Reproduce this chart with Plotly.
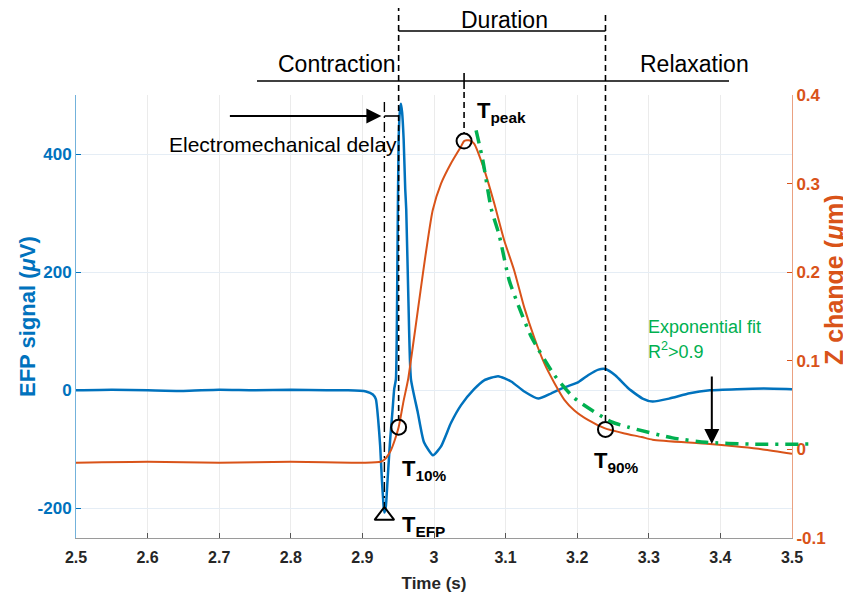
import plotly.graph_objects as go

# ---------------- data ----------------
time_ticks = [2.5, 2.6, 2.7, 2.8, 2.9, 3.0, 3.1, 3.2, 3.3, 3.4, 3.5]
time_tick_labels = ["2.5", "2.6", "2.7", "2.8", "2.9", "3", "3.1", "3.2", "3.3", "3.4", "3.5"]
efp_ticks = [-200, 0, 200, 400]
efp_tick_labels = ["-200", "0", "200", "400"]
z_ticks = [-0.1, 0.0, 0.1, 0.2, 0.3, 0.4]
z_tick_labels = ["-0.1", "0", "0.1", "0.2", "0.3", "0.4"]

# EFP signal (uV)
efp_time = [2.500, 2.550, 2.600, 2.650, 2.700, 2.750, 2.800, 2.850, 2.880, 2.905,
            2.9146, 2.9188, 2.9220, 2.9248, 2.9272, 2.9296, 2.9307, 2.9328, 2.9352, 2.9388,
            2.9422, 2.9444, 2.9468, 2.9490, 2.9506, 2.9525, 2.9538, 2.9555, 2.9576, 2.9598,
            2.9612, 2.9643, 2.9678, 2.9773, 2.9860, 2.9986, 3.0098, 3.0238, 3.0378, 3.0560,
            3.0700, 3.0896, 3.1078, 3.1261, 3.1457, 3.1639, 3.1821, 3.2017, 3.2157, 3.2297,
            3.2395, 3.2535, 3.2717, 3.2913, 3.3053, 3.3284, 3.3571, 3.3852, 3.4230, 3.4608,
            3.5000]
efp_uv = [0, 1, 0, -1, 1, 0, 1, 0, 0, -2,
          -7, -15, -49, -94, -151, -196, -207, -196, -151, -83,
          -32, 2, 19, 230, 425, 475, 485, 470, 425, 341,
          307, 150, 19, -37, -88, -110, -95, -55, -25, 2,
          17, 24, 15, -2, -14, -5, 5, 14, 26, 35,
          36, 25, 3, -14, -19, -14, -5, 0, 2, 3,
          2]

# Z change (um)
z_time = [2.500, 2.600, 2.700, 2.800, 2.900, 2.9258, 2.9328, 2.9398, 2.9450, 2.9506,
          2.9576, 2.9636, 2.9706, 2.9776, 2.9846, 2.9916, 2.9982, 3.0098, 3.0238, 3.0378,
          3.0420, 3.0490, 3.0560, 3.0700, 3.0840, 3.0980, 3.1120, 3.1261, 3.1401, 3.1541,
          3.1681, 3.1821, 3.1961, 3.2157, 3.2381, 3.2661, 3.2899, 3.3053, 3.3852, 3.4594,
          3.5000]
z_um = [-0.015, -0.014, -0.015, -0.014, -0.015, -0.014, -0.010, -0.001, 0.010, 0.025,
        0.055, 0.078, 0.117, 0.158, 0.199, 0.238, 0.270, 0.300, 0.323, 0.342,
        0.348, 0.349, 0.345, 0.316, 0.278, 0.236, 0.202, 0.160, 0.126, 0.097,
        0.075, 0.056, 0.044, 0.033, 0.024, 0.018, 0.014, 0.011, 0.006, 0.000,
        -0.005]

# Exponential fit of relaxation (um)
fit_time = [3.0588, 3.0680, 3.0798, 3.0910, 3.1050, 3.1190, 3.1360, 3.1680, 3.1960,
            3.2480, 3.2720, 3.3330, 3.3800, 3.4410, 3.5250]
fit_um = [0.360, 0.327, 0.272, 0.242, 0.191, 0.160, 0.127, 0.084, 0.058,
          0.031, 0.025, 0.013, 0.008, 0.006, 0.006]

# Event markers
t_efp, efp_at_tefp = 2.9307, -212
t_10, z_at_t10 = 2.9506, 0.025
t_peak, z_at_tpeak = 3.0420, 0.348
t_90, z_at_t90 = 3.2395, 0.0226

# ---------------- layout geometry ----------------
OFF = 8                                     # page body margin of the html page
W, H = 851 - OFF, 597 - OFF
ML, MR, MT, MB = 76 - OFF, 36, 95 - OFF, 59
PW, PH = W - ML - MR, H - MT - MB          # paper plot area (739 x 443)
AX_W = 716                                  # pixel width of the real x axis
X_RANGE = [2.5, 3.5]
Y_RANGE = [-250, 500]
Y2_RANGE = [-0.1, 0.4]


def xp(px):
    """page pixel x -> paper coordinate"""
    return (px - OFF - ML) / PW


def yp(py):
    """page pixel y -> paper coordinate"""
    return (H - MB - (py - OFF)) / PH


def y2p(v):
    return (v - Y2_RANGE[0]) / (Y2_RANGE[1] - Y2_RANGE[0])


def y1p(v):
    return (v - Y_RANGE[0]) / (Y_RANGE[1] - Y_RANGE[0])


BLUE = "#0072BD"
ORANGE = "#D95319"
GREEN = "#00B050"
FONT = "Arial, Liberation Sans, sans-serif"

fig = go.Figure()
fig.add_trace(go.Scatter(x=efp_time, y=efp_uv, mode="lines", xaxis="x", yaxis="y",
                         line=dict(color=BLUE, width=2.5, shape="spline", smoothing=0.5),
                         hoverinfo="skip"))
fig.add_trace(go.Scatter(x=z_time, y=z_um, mode="lines", xaxis="x", yaxis="y2",
                         line=dict(color=ORANGE, width=2, shape="spline", smoothing=0.6),
                         hoverinfo="skip"))
fig.add_trace(go.Scatter(x=[t_10, t_peak, t_90], y=[z_at_t10, z_at_tpeak, z_at_t90],
                         mode="markers", xaxis="x", yaxis="y2",
                         marker=dict(symbol="circle-open", size=15, color="black",
                                     line=dict(width=2, color="black")),
                         hoverinfo="skip"))
fig.add_trace(go.Scatter(x=[t_efp], y=[efp_at_tefp], mode="markers", xaxis="x", yaxis="y",
                         marker=dict(symbol="triangle-up-open", size=17, color="black",
                                     line=dict(width=2, color="black")),
                         hoverinfo="skip", cliponaxis=False))
fig.add_trace(go.Scatter(x=fit_time, y=fit_um, mode="lines", xaxis="x3", yaxis="y3",
                         line=dict(color=GREEN, width=3.5, dash="13px,7px,3px,7px",
                                   shape="spline", smoothing=0.6),
                         hoverinfo="skip"))

shapes = []


def vline(x, y0, y1, dash, width=1.6):
    shapes.append(dict(type="line", xref="x", yref="paper", x0=x, x1=x, y0=y0, y1=y1,
                       line=dict(color="black", width=width, dash=dash)))


def hline(x0, x1, y, xref="x"):
    shapes.append(dict(type="line", xref=xref, yref="paper", x0=x0, x1=x1, y0=y, y1=y,
                       line=dict(color="black", width=1.6)))


r_circ = 7.5 / PH
vline(t_10, yp(5), y2p(z_at_t10) + r_circ, "6px,4px")
vline(t_90, yp(15), y2p(z_at_t90) + r_circ, "6px,4px")
vline(t_peak, yp(73), yp(89), "solid")
vline(t_peak, yp(92), y2p(z_at_tpeak) + r_circ, "6px,4px")
vline(t_efp, yp(102), y1p(efp_at_tefp) + 9 / PH, "10px,4px,2px,4px", 1.4)
hline(t_10, t_90, yp(31))
hline(xp(257), xp(729), yp(81), xref="paper")
hline(t_efp, t_10, yp(116))

ann = []


def text(s, px, py, size, color="black", xanchor="center", bold=False, angle=0):
    ann.append(dict(text=s, xref="paper", yref="paper", x=xp(px), y=yp(py),
                    xanchor=xanchor, yanchor="middle", showarrow=False, textangle=angle,
                    font=dict(family=FONT, size=size, color=color,
                              weight="bold" if bold else "normal")))


text("Contraction", 337, 64, 23)
text("Duration", 504, 20, 23)
text("Relaxation", 694, 64, 23)
text("Electromechanical delay", 283, 144, 21)
text("Exponential fit", 646, 327, 18, GREEN, "left")
text("R<sup>2</sup>>0.9", 646, 350, 18, GREEN, "left")
text("T<sub>peak</sub>", 475, 112, 22, bold=True, xanchor="left")
text("T<sub>10%</sub>", 400, 470, 22, bold=True, xanchor="left")
text("T<sub>EFP</sub>", 400, 526, 22, bold=True, xanchor="left")
text("T<sub>90%</sub>", 592, 462, 22, bold=True, xanchor="left")

# axis titles for the two y axes
text("EFP signal (<i>\u03bc</i>V)", 27, 316, 22, BLUE, bold=True, angle=-90)
text("Z change (<i>\u03bc</i>m)", 834, 280, 25, ORANGE, bold=True, angle=-90)

# arrows
ann.append(dict(text="", xref="x", yref="paper", x=t_efp, y=yp(116), xshift=-3,
                ax=-153, ay=0, showarrow=True, arrowhead=2, arrowsize=1.5,
                arrowwidth=2, arrowcolor="black"))
ann.append(dict(text="", xref="x", yref="paper", x=3.388, y=yp(444),
                ax=0, ay=-69, showarrow=True, arrowhead=2, arrowsize=1.5,
                arrowwidth=2, arrowcolor="black"))

fig.update_layout(
    width=W, height=H,
    margin=dict(l=ML, r=MR, t=MT, b=MB, autoexpand=False),
    paper_bgcolor="white", plot_bgcolor="rgba(0,0,0,0)",
    showlegend=False,
    shapes=shapes, annotations=ann,
    xaxis=dict(domain=[0, AX_W / PW], range=X_RANGE, anchor="y", automargin=False,
               tickvals=time_ticks, ticktext=time_tick_labels,
               ticks="inside", ticklen=5, tickcolor="#555555", tickwidth=1,
               ticklabelstandoff=5,
               showline=True, linecolor="#9a9a9a", linewidth=1,
               showgrid=True, gridcolor="#ebebeb", gridwidth=1, zeroline=False,
               tickfont=dict(color="#262626", family=FONT, size=16, weight="bold"),
               title=dict(text="Time (s)", standoff=11,
                          font=dict(family=FONT, size=17, color="#262626", weight="bold"))),
    yaxis=dict(range=Y_RANGE, anchor="x", automargin=False,
               tickvals=efp_ticks, ticktext=efp_tick_labels,
               ticks="inside", ticklen=5, tickcolor=BLUE,
               showline=True, linecolor="rgba(0,114,189,0.55)", linewidth=1,
               showgrid=True, gridcolor="#e5edf5", zeroline=False,
               tickfont=dict(color=BLUE, family=FONT, size=17, weight="bold")),
    yaxis2=dict(range=Y2_RANGE, overlaying="y", side="right", anchor="x", automargin=False,
                tickvals=z_ticks, ticktext=z_tick_labels,
                ticks="inside", ticklen=5, tickcolor=ORANGE,
                showline=True, linecolor="rgba(217,83,25,0.55)", linewidth=1,
                showgrid=False, zeroline=False,
                tickfont=dict(color=ORANGE, family=FONT, size=17, weight="bold")),
    xaxis3=dict(domain=[0, 1], range=[X_RANGE[0], X_RANGE[0] + (X_RANGE[1] - X_RANGE[0]) * PW / AX_W],
                anchor="y3", visible=False, fixedrange=True),
    yaxis3=dict(domain=[0, 1], range=Y2_RANGE, anchor="x3", visible=False, fixedrange=True),
)

fig.write_html("out.html")
